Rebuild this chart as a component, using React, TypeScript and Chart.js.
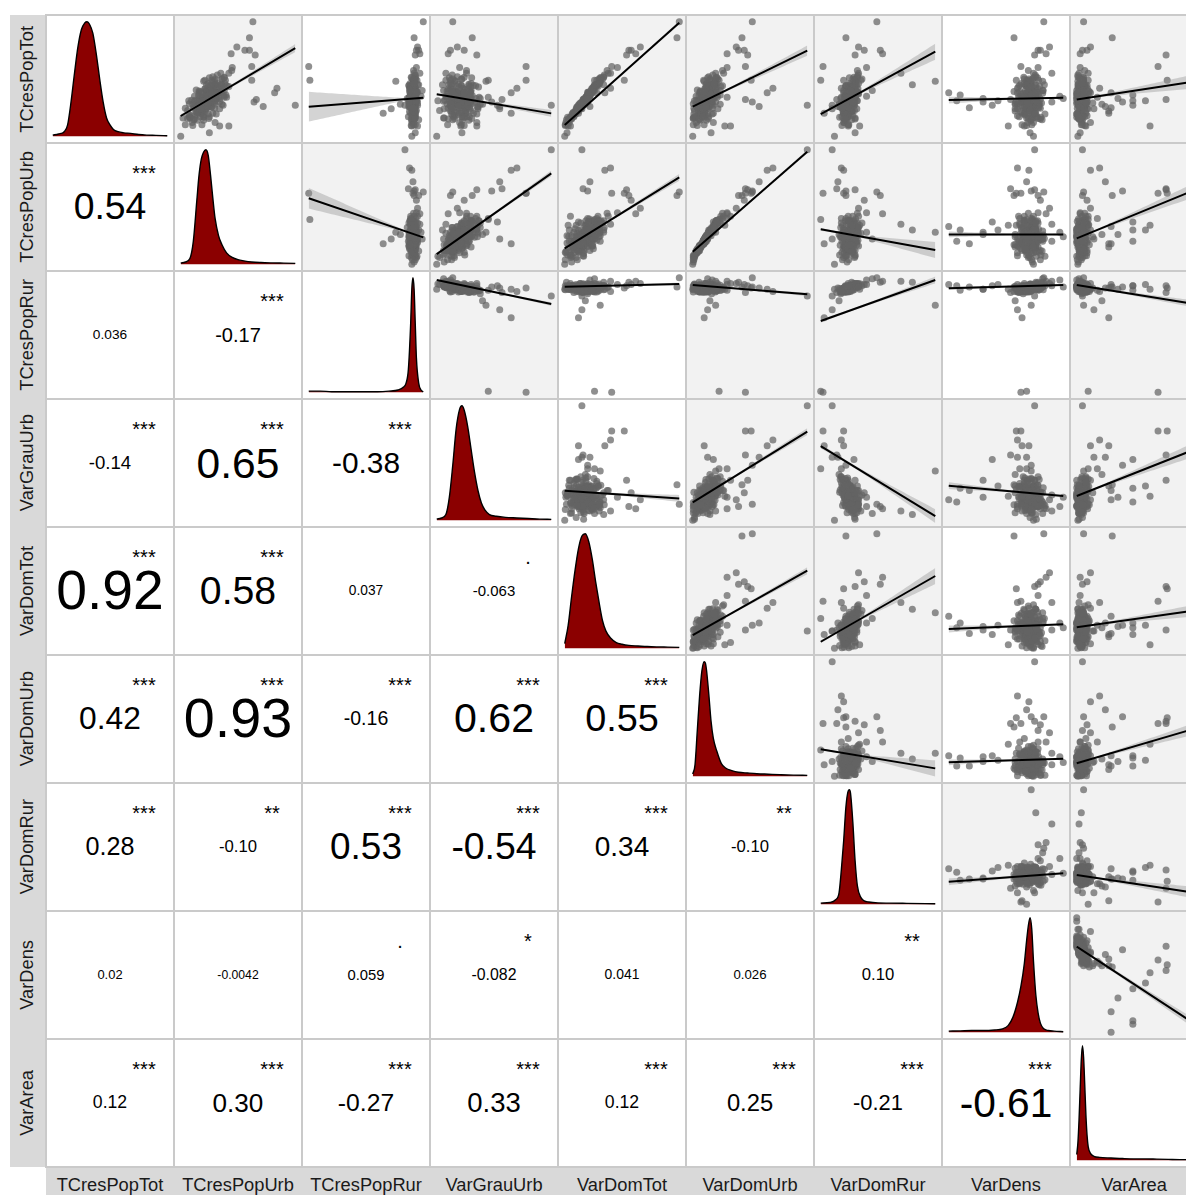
import React, { useEffect, useRef } from "react";
import { Chart, registerables } from "chart.js";

Chart.register(...registerables);

// ---------- labels ----------
const variables = [
  "TCresPopTot", "TCresPopUrb", "TCresPopRur", "VarGrauUrb", "VarDomTot",
  "VarDomUrb", "VarDomRur", "VarDens", "VarArea",
];

// ---------- observations (values read as position within each variable's range, 0..100) ----------
const TCresPopTot = [
  32,26,39,29,36,20,31,35,28,42, 30,31.5,25,38,27.5,33,17,35,28.5,41, 26,33.5,24.5,36,28,45.5,25.5,29.5,33.5,21,
  37.5,29,33.5,31.5,41,26.5,33,22,36.5,29.5, 38.5,27.5,44,26,31,22,35,30,28,39, 27.5,34.5,29.5,34,20,37.5,28.5,41.5,25,32.5,
  29,34,27.5,37,18.5,32.5,27,37.5,29.5,34,
  100,86,78,75,75,71,72,61,49,27, 48,38,33,49,32,9,27,31,42,38, 26,30,9,3,0,55,45,20,24,28,
  35,30,29,33,25,36,31,22,40,18, 50,55,12,60,34,15,30,
  50,14,46,40,20,52,35,24,44,16,38,28,48,
  23,34.5,45.5,27,33,17,37.5,25.5,32.5,48.5, 20,30.5,39,28,41.5,22,38.5,14,34,39, 28,30,21.5,44.5,31,35.5,24.5,44,16.5,34.5,
  29,39.5,25.5,32.5,50,25.5,38.5,19.5,32.5,37.5, 12,33.5,31.5,43.5,21.5,35,26.5,42.5,25.5,46, 18.5,32,35.5,24.5,37.5,30.5,34.5,15.5,44.5,26.5,
  44.5,17,51,28.5,36,16.5,51.5,22.5,40,34, 10,49,24,43,19.5,37,53.5,9.5,31,43.5, 25.5,41.5,16,51,30,40.5,14.5,33,49,19.5,
  39,10,57.5,24.5,38.5,17,45,29.5,46,15.5,
];
const TCresPopUrb = [
  20,21,27,15,28,15,22,21,26,31, 21,27,15,18,20,31,17,22,17,32, 21,22.5,12,29,16.5,30.5,24,16.5,25,14.5,
  23,22,31,13,26,23,23.5,15.5,27.5,17, 31.5,20,30.5,12.5,25.5,21.5,21,23.5,30,22, 19,23.5,25,18.5,18,25,18.5,36,17,25.5,
  14,25,16,30.5,12.5,28,22,24.5,19,24,
  63,60,49,56,60,65,44,62,39,100, 28,33,24,62,66,34,37,30,84,82, 72,64,42,25,0,35,30,18,22,26,
  28,20,24,26,18,30,20,15,22,10, 36,42,30,45,40,12,28,
  30,20,24,38,28,28,12,34,40,8,16,36,20,
  21,16.5,35.5,19,34,7.5,23,26.5,25,29.5, 16,12,34.5,24,21.5,18,30,14.5,18.5,29, 10.5,29.5,13.5,34.5,19.5,37.5,11.5,28,20,21.5,
  21.5,16,27,19,36,16.5,25.5,24,16,32.5, 10,28,9.5,24.5,19,33.5,15.5,28,11,38.5, 20,22,15.5,29.5,29,19,30,6,26,21,
  36,25,25,7.5,39.5,8,38,6,25.5,38, 18.5,21,17,38,7,27,32,10.5,7,42, 24,21,2,38,34,13.5,11.5,32,27,31,
  17,4,44.5,4,36,20,22.5,23.5,32,24.5,
];
const TCresPopRur = [
  92,90,92,93,89,91,92,91,91,91, 89,91.5,93,90,92.5,89,91,90.5,92.5,91.5, 89.5,93,89.5,93,90,91,90.5,91.5,87.5,93,
  90,92.5,92,89.5,93,90.5,91,93,90.5,90, 92,91,90.5,93,89,91,93.5,92,91.5,90.5, 91,93,88,91.5,92,89,93,91,90.5,90.5,
  91.5,93,88.5,93,91,90,91,93,89,91,
  100,92,95,94,96,93,97,0,1,84, 76,94,92,91,87,90,93,94,88,90, 91,92,95,93,90,97,96,65,72,80,
  98,93,91,90,92,89,93,91,99,91, 93,92,90,94,89,92,90,
  91,90,92,91,89,93,92,90,90,93,94,89,92,
  91,91.5,90.5,95,89,91,89.5,90.5,93,91.5, 90.5,93,89,88,93,92.5,90.5,91,88,94, 92,92,88,92.5,94.5,91.5,92,87.5,92.5,88,
  95,91,89,90.5,92,87.5,94,90.5,90.5,93, 91.5,88,92,92,92.5,92,87.5,92.5,92,88.5, 93,90,89.5,91,92.5,92,92.5,89.5,92,90,
  87.5,93,93,87.5,93.5,90.5,89.5,94,89.5,89, 91.5,93,92.5,88.5,93,93,93,89.5,94.5,89, 89.5,93.5,92,90,90,88.5,96,86,94.5,90.5,
  88,93,91.5,90.5,95,87,95,87.5,92,92.5,
];
const VarGrauUrb = [
  16,23,18,13,29,20,16,15,25,23, 25,18,17,15.5,16,30,22,21.5,9,24, 25,16.5,18.5,19,18,19,28.5,12,28.5,16.5,
  17,21,23.5,17,14,21.5,23,12,27,16, 23,20.5,21.5,12,25,25,12,21.5,27,17.5, 20.5,14.5,29.5,15,21.5,24,12.5,27,21,20,
  14.5,15,22.5,22,15.5,29,19.5,18,19,20.5,
  14,31,18,24,12,35,10,78,45,100, 43,18,20,78,57,21,53,30,70,65, 55,48,35,22,0,8,5,65,55,40,
  12,22,24,20,26,28,16,30,6,14, 22,26,35,20,45,10,35,
  14,28,12,30,32,18,8,36,34,6,10,38,16,
  25,8.5,28,11.5,34.5,15,22,24.5,19.5,16, 25.5,6,29.5,30,12.5,13,29.5,22.5,21.5,15, 15,22,22,21.5,11,31,10,28,23,20.5,
  17,9,36,14,21.5,26.5,17,25,19,17.5, 20,28,7,17.5,15.5,29.5,19,19,13,30, 19,21.5,16,29,24,12.5,24,15.5,13,27,
  32,26.5,11,12,26,24.5,24,2.5,28.5,37, 21.5,12,6.5,36.5,13,14.5,13.5,24,1,29.5, 35.5,10,6.5,30.5,27.5,11.5,14,38,8,35,
  13.5,9.5,26,13,24,28.5,10.5,33,13.5,30.5,
];
const VarDomTot = [
  18,13,23,15,20,9,18,21,14,25, 16,19,11,22,14.5,18.5,6,20,16,24, 13,18.5,11,21,14.5,28.5,12,17,19.5,7.5,
  23,14.5,19.5,16.5,24.5,14.5,17.5,11,20,16.5, 22,14.5,27,12,18,9.5,19.5,16,14.5,23, 13.5,20,16.5,18.5,8,22,16,25.5,12,19,
  15,20,14,21.5,7.5,17.5,15,20.5,17,19,
  100,98,66,58,56,54,62,41,26,15, 31,28,18,52,16,3,12,20,40,35, 22,20,5,2,0,40,34,12,15,18,
  22,16,15,19,13,22,18,10,26,8, 33,38,4,46,20,6,16,
  30,4,30,24,8,34,22,10,28,5,24,14,31,
  10,21,27.5,13.5,18.5,5,22.5,13.5,18,30.5, 7,17,23,15.5,24.5,12,20.5,3,19.5,23.5, 12.5,17.5,10.5,27.5,16,21,12.5,26,6,21,
  13.5,24.5,11,19,31.5,13,21,9.5,16.5,23, 1,20.5,16.5,25.5,10,19,15.5,24.5,12,29.5, 8,17.5,20.5,12,21.5,16,19,5.5,27.5,13,
  28,6,31,16,21.5,2.5,34,10,23,18.5, 2,28,14,25.5,6.5,21.5,34.5,0.5,16.5,29, 10.5,23.5,6,31.5,17.5,25,1.5,20,30,9,
  24,0.5,37,11,20,8,26,14.5,30.5,3.5,
];
const VarDomUrb = [
  10,10,15,6,15,6,12,10,14,17, 10,15,6.5,8,10.5,17.5,8,10.5,8,18, 9.5,11.5,4.5,16.5,7,16.5,12,7.5,12,7,
  11.5,11,17.5,4.5,14,12,11.5,7.5,14,8, 18,9.5,16.5,5,13,11,11.5,12,17,10, 9.5,12.5,12.5,9,8.5,12.5,9,20.5,7.5,13.5,
  5,14,6.5,17,5,14.5,11,13,9,12.5,
  52,43,38,45,40,48,30,46,23,100, 20,18,12,51,46,28,18,14,70,65, 58,52,33,16,0,20,15,10,13,15,
  17,10,12,13,9,16,9,6,13,4, 22,27,18,30,30,6,17,
  15,12,12,24,18,14,3,22,26,2,6,24,10,
  10.5,7.5,19.5,10,18.5,2,10.5,14.5,13,16, 7,4.5,19.5,11,10.5,9.5,16,6.5,8,16.5, 3,16.5,5,19.5,11,21.5,4.5,13.5,10,10,
  11.5,6.5,14,9,20,6,14,13,6.5,19.5, 3,14,3,12,10,19,6,15.5,3.5,21, 11,10.5,5.5,17,15,10,16.5,0.5,14,9.5,
  19.5,14,13,0.5,24,1,21,1.5,12,21.5, 10,9.5,9,20.5,1,15.5,17.5,4,1.5,24.5, 11.5,11,0.5,20.5,20,4,5.5,16.5,15,17,
  7,0.5,26,1,21.5,9,11.5,11,18.5,13.5,
];
const VarDomRur = [
  26,23,29,26,23,21,29,26,25,26.5, 21,28,24,25,27,25,22,23.5,29,28, 21,27.5,22,29,23.5,29,21.5,26,20.5,25.5,
  26,24.5,27,22,30.5,25,24,27,23,25, 29,23,27.5,26,23,22.5,30.5,24,26,25, 24.5,29,20.5,26.5,23,24,27.5,27.5,22,27,
  24,30,20.5,27.5,24,22.5,25,28,24,25.5,
  49,22,33,38,52,30,54,2,0,10, 100,31,27,20,14,34,29,32,18,20, 15,22,24,30,12,70,80,3,10,16,
  40,26,24,23,22,21,28,24,45,28, 36,33,20,40,18,30,22,
  28,22,30,24,20,32,28,19,22,30,33,18,31,
  22.5,28.5,26.5,29.5,22.5,22.5,22,25.5,26,30.5, 20,28.5,26.5,18.5,28.5,27.5,24,21,22,31.5, 22.5,27.5,19.5,29.5,31.5,25.5,26.5,22,23,24,
  28,27,19,27,30,17,29.5,24,22.5,32.5, 20.5,21,27,26.5,27.5,26,21,29.5,24,25.5, 25.5,24,22,25,25,29.5,26.5,20,31.5,19.5,
  24,24,32,22,30.5,16.5,29,29.5,20,23.5, 24,29,31.5,21.5,21.5,33,32.5,18.5,30,28, 17,32.5,23,25,28,24,27,17.5,35,20,
  26,24.5,32,19,32,18.5,30.5,18,33,21.5,
];
const VarDens = [
  72,68,73,76,70,75,65,72,69,76, 71,67,78,69.5,73.5,63.5,72,75,67.5,71.5, 70.5,77,66.5,74,68.5,70,73,71,65,75.5,
  68,79,72.5,69,72,66,74.5,70,76.5,64, 71,73.5,68.5,75,67,72.5,70.5,77.5,68,74, 69.5,73,66,71.5,76,67.5,74,70,72,64.5,
  75.5,71,68.5,78.5,66.5,73,70.5,75,63,72,
  83,57,88,80,78,75,85,63,68,75, 72,0,100,59,54,52,38,43,60,70, 68,72,66,71,74,90,76,64,60,58,
  97,90,58,30,18,10,7,58,82,60, 66,74,69,78,62,80,30,
  70,72,68,74,66,76,64,70,72,68,60,78,82,
  73.5,66.5,72,77,68,70,75.5,64.5,80,69, 74.5,72.5,62,71,78,67,74,71.5,65.5,73, 79,69.5,63,75,71,76,68.5,67.5,76.5,61,
  81,70,72.5,64,73.5,70.5,77.5,66.5,75.5,65, 74,69,72,79.5,68,74.5,61.5,71.5,76,66, 73,70,73.5,67.5,82,63.5,75.5,69.5,67,78,
  62,77,74,60,73,80.5,65.5,71,82.5,66.5, 64,78.5,58,72,84,63,75.5,68,76.5,61, 79,69,73,77.5,59,67,81.5,65,71.5,75,
  57,72.5,69.5,80,76,61.5,83.5,68.5,63.5,78,
];
const VarArea = [
  3,7,3,3,7,1,6,2,6,1, 4,3,3,5,2,9,3,3,3.5,5, 4,1.5,9,1.5,5.5,4,4.5,1.5,6.5,4,
  4,1.5,2,7,3.5,5,4,2,3,6, 6,1.5,5,3.5,4.5,3.5,6,0,5.5,2.5, 7,2,6,5,1,7,0,4.5,4.5,6,
  3,3.5,6.5,0,6,4.5,2,5.5,6.5,3.5,
  6,31,12,9,5,78,3,71,10,5, 6,30,0,79,78,64,49,60,20,12, 25,40,8,3,1,2,4,28,15,22,
  0,1,14,36,30,49,49,28,2,9, 5,10,12,3,18,2,100,
  3,5,2,6,8,1,4,10,7,2,4,8,1,
  3.5,4.5,5.5,1.5,6,7,0.5,6.5,0,5.5, 4.5,2.5,10.5,2.5,2,2.5,7,4.5,7,3, 3,2,7.5,1.5,6,0.5,5,8,0,8,
  2,3,7,6.5,3,3.5,3.5,4,5,5.5, 4,1.5,5,1.5,4.5,5,5.5,7,2.5,5.5, 1,5,2,6.5,0,9,2.5,3.5,7,1.5,
  9,1,6,8.5,1.5,4.5,5.5,5,0,8, 5,6,6,4.5,0,10,1,7,2,4.5, 3.5,9.5,1.5,2,9,5,3,4.5,5.5,0,
  11,4,7,0.5,6,5,1,8,5,2,
];
const series = [TCresPopTot, TCresPopUrb, TCresPopRur, VarGrauUrb, VarDomTot, VarDomUrb, VarDomRur, VarDens, VarArea];

// ---------- density curves on the diagonal: [position, height relative to peak] ----------
const densTCresPopTot = [[0,0.01],[5,0.02],[10,0.04],[13,0.1],[16,0.3],[19,0.55],[22,0.78],[25,0.93],[28,0.99],[30,1],[32,0.98],[35,0.9],[38,0.72],[41,0.5],[44,0.3],[47,0.16],[50,0.1],[53,0.06],[57,0.04],[62,0.03],[68,0.025],[75,0.015],[82,0.01],[90,0.008],[100,0.005]];
const densTCresPopUrb = [[0,0.01],[4,0.02],[8,0.05],[11,0.2],[14,0.55],[16,0.78],[18,0.92],[20,0.98],[22,1],[24,0.95],[26,0.78],[28,0.58],[30,0.4],[33,0.25],[36,0.17],[40,0.1],[45,0.06],[50,0.04],[55,0.03],[62,0.02],[70,0.015],[80,0.012],[90,0.01],[100,0.008]];
const densTCresPopRur = [[0,0.01],[10,0.01],[20,0.005],[30,0.005],[40,0.005],[50,0.005],[60,0.005],[70,0.01],[78,0.02],[82,0.04],[85,0.08],[87,0.2],[89,0.6],[90,0.9],[91,1],[92,0.9],[93,0.6],[94,0.3],[96,0.08],[98,0.02],[100,0.005]];
const densVarGrauUrb = [[0,0.01],[4,0.02],[8,0.05],[11,0.2],[14,0.48],[17,0.8],[20,0.97],[22,1],[24,0.96],[27,0.82],[30,0.62],[33,0.42],[36,0.26],[39,0.15],[42,0.09],[46,0.05],[52,0.035],[60,0.025],[70,0.02],[80,0.015],[90,0.01],[100,0.008]];
const densVarDomTot = [[0,0.04],[3,0.2],[6,0.45],[9,0.68],[12,0.87],[15,0.98],[18,1],[21,0.93],[24,0.78],[27,0.58],[30,0.4],[33,0.24],[36,0.15],[40,0.09],[45,0.05],[50,0.035],[56,0.025],[64,0.02],[72,0.015],[80,0.012],[90,0.01],[100,0.008]];
const densVarDomUrb = [[0,0.02],[2,0.1],[4,0.4],[6,0.7],[8,0.92],[10,1],[11,0.99],[12,0.93],[14,0.72],[16,0.48],[18,0.33],[21,0.22],[25,0.11],[29,0.07],[34,0.05],[40,0.035],[48,0.028],[56,0.022],[66,0.018],[76,0.014],[88,0.01],[100,0.008]];
const densVarDomRur = [[0,0.01],[8,0.015],[13,0.04],[16,0.1],[18,0.3],[20,0.55],[22,0.85],[24,0.99],[25,1],[26,0.97],[28,0.72],[30,0.38],[32,0.16],[35,0.06],[38,0.03],[42,0.02],[50,0.012],[60,0.01],[75,0.008],[100,0.005]];
const densVarDens = [[0,0.01],[10,0.012],[20,0.015],[30,0.015],[40,0.02],[47,0.03],[52,0.06],[56,0.13],[60,0.26],[63,0.4],[66,0.6],[68,0.8],[69.5,0.93],[71,1],[72.5,0.9],[74,0.62],[76,0.33],[78,0.17],[80,0.08],[83,0.03],[87,0.015],[92,0.01],[100,0.005]];
const densVarArea = [[0,0.05],[1,0.15],[2,0.35],[3,0.62],[4,0.88],[5,1],[6,0.9],[7,0.66],[8,0.4],[9,0.22],[10,0.12],[12,0.06],[15,0.035],[20,0.025],[30,0.02],[40,0.015],[50,0.012],[60,0.012],[70,0.01],[80,0.008],[90,0.006],[100,0.005]];
const densityCurves = [densTCresPopTot, densTCresPopUrb, densTCresPopRur, densVarGrauUrb, densVarDomTot, densVarDomUrb, densVarDomRur, densVarDens, densVarArea];

// ---------- pairs (row < column, row order) ----------
const corrValues = [
  "0.54","0.036","-0.14","0.92","0.42","0.28","0.02","0.12",
  "-0.17","0.65","0.58","0.93","-0.10","-0.0042","0.30",
  "-0.38","0.037","-0.16","0.53","0.059","-0.27",
  "-0.063","0.62","-0.54","-0.082","0.33",
  "0.55","0.34","0.041","0.12",
  "-0.10","0.026","0.25",
  "0.10","-0.21",
  "-0.61",
];
const corrStars = [
  "***","","***","***","***","***","","***",
  "***","***","***","***","**","","***",
  "***","","***","***",".","***",
  ".","***","***","*","***",
  "***","***","","***",
  "**","","***",
  "**","***",
  "***",
];
// fitted line: row-variable value at the smallest and largest column-variable value
const fitLines = [
  [17.7,77],[25.8,33.6],[36.6,20],[9.8,99.2],[25.8,74.7],[19.4,73.8],[31.6,33.6],[32.2,47.4],
  [57.6,23.5],[8.9,79.4],[13.9,75.9],[11,98.3],[30.5,12.4],[26.1,26.1],[22.6,63.7],
  [98,77],[92.2,94.5],[93.6,85.5],[62.2,98],[90.8,93.6],[93.6,77.5],
  [25.8,19.1],[15.7,77.4],[64.8,3.7],[30.2,21.2],[21.2,60.7],
  [11.5,67.7],[5.7,63.1],[16.8,20.9],[18.3,32.5],
  [23.5,6.9],[12.2,15.3],[11.3,40.7],
  [19.7,27],[25.5,10.5],
  [74.7,9.3],
];
// confidence band half-width at the two ends
const fitBands = [
  [1.5,3.5],[13,1],[1,3],[1,1.5],[1,4.5],[1.5,7],[3,1],[1,6],
  [9,0.8],[1,2.5],[1,3],[0.8,1.5],[1.2,7],[2.5,0.8],[0.8,6],
  [0.4,1.5],[0.4,1.2],[0.4,1.5],[1.5,3],[1.5,0.4],[0.4,3],
  [1,3],[1,3],[2,6],[3,1],[1,6],
  [0.8,3],[1.2,7],[3,0.8],[0.8,5],
  [1,7],[2.5,0.7],[0.8,5],
  [3,0.8],[0.8,5],
  [1.5,4],
];

// ---------- layout constants ----------
const CELL = 128;
const INNER = 126;
const GRID_LEFT = 45;
const GRID_TOP = 14;
const N = variables.length;
const FONT = "'Liberation Sans', Arial, Helvetica, sans-serif";

function pairIndex(i: number, j: number) {
  let k = 0;
  for (let a = 0; a < i; a++) k += N - 1 - a;
  return k + (j - i - 1);
}

function rangeOf(v: number[]) {
  const lo = Math.min(...v);
  const hi = Math.max(...v);
  const pad = (hi - lo) * 0.05;
  return { lo, hi, min: lo - pad, max: hi + pad };
}

const baseOptions = (xr: any, ymin: number, ymax: number) => ({
  animation: false,
  responsive: false,
  maintainAspectRatio: false,
  events: [],
  layout: { padding: 0, autoPadding: false },
  plugins: { legend: { display: false }, tooltip: { enabled: false }, title: { display: false } },
  scales: {
    x: { type: "linear", display: false, min: xr.min, max: xr.max },
    y: { type: "linear", display: false, min: ymin, max: ymax },
  },
});

function PlotPanel({ row, col }: { row: number; col: number }) {
  const ref = useRef<HTMLCanvasElement | null>(null);
  useEffect(() => {
    const canvas = ref.current;
    if (!canvas) return;
    const xr = rangeOf(series[col]);
    let config: any;
    if (row === col) {
      const dens = densityCurves[col];
      config = {
        type: "line",
        data: {
          datasets: [
            {
              data: dens.map(([x, y]) => ({ x, y })),
              borderColor: "#000000",
              borderWidth: 1.4,
              backgroundColor: "#8b0000",
              fill: "origin",
              pointRadius: 0,
              cubicInterpolationMode: "monotone",
            },
          ],
        },
        options: baseOptions(xr, -0.05, 1.05),
      };
    } else {
      const yr = rangeOf(series[row]);
      const k = pairIndex(row, col);
      const [y0, y1] = fitLines[k];
      const [bl, br] = fitBands[k];
      const xs = series[col];
      const ys = series[row];
      const xm = xs.reduce((a, b) => a + b, 0) / xs.length;
      const hm = Math.min(bl, br) * 0.6;
      const lineAt = (x: number) => y0 + ((y1 - y0) * (x - xr.lo)) / (xr.hi - xr.lo);
      const hwAt = (x: number) => {
        if (x < xm) {
          const t = (xm - x) / (xm - xr.lo);
          return Math.sqrt(hm * hm + (bl * bl - hm * hm) * t * t);
        }
        const t = (x - xm) / (xr.hi - xm);
        return Math.sqrt(hm * hm + (br * br - hm * hm) * t * t);
      };
      const upper: any[] = [];
      const lower: any[] = [];
      const steps = 40;
      for (let s = 0; s <= steps; s++) {
        const x = xr.lo + ((xr.hi - xr.lo) * s) / steps;
        upper.push({ x, y: lineAt(x) + hwAt(x) });
        lower.push({ x, y: lineAt(x) - hwAt(x) });
      }
      config = {
        type: "scatter",
        data: {
          datasets: [
            {
              type: "line",
              data: [
                { x: xr.lo, y: y0 },
                { x: xr.hi, y: y1 },
              ],
              borderColor: "#000000",
              borderWidth: 2,
              pointRadius: 0,
              fill: false,
              order: 0,
            },
            {
              type: "line",
              data: upper,
              borderColor: "rgba(0,0,0,0)",
              borderWidth: 0,
              pointRadius: 0,
              fill: false,
              order: 1,
            },
            {
              type: "line",
              data: lower,
              borderColor: "rgba(0,0,0,0)",
              borderWidth: 0,
              pointRadius: 0,
              fill: "-1",
              backgroundColor: "rgba(153,153,153,0.42)",
              order: 1,
            },
            {
              type: "scatter",
              data: xs.map((x, n) => ({ x, y: ys[n] })),
              pointRadius: 3.5,
              pointBackgroundColor: "rgba(100,100,100,0.72)",
              backgroundColor: "rgba(100,100,100,0.72)",
              borderWidth: 0,
              pointBorderWidth: 0,
              order: 3,
            },
          ],
        },
        options: baseOptions(xr, yr.min, yr.max),
      };
    }
    const chart = new Chart(canvas, config);
    return () => chart.destroy();
  }, [row, col]);
  return (
    <canvas
      ref={ref}
      width={INNER}
      height={INNER}
      style={{ display: "block", width: INNER, height: INNER }}
    />
  );
}

function CorrCell({ row, col }: { row: number; col: number }) {
  const k = pairIndex(col, row);
  const label = corrValues[k];
  const stars = corrStars[k];
  const size = 12 + 47 * Math.abs(parseFloat(label));
  return (
    <div style={{ position: "absolute", left: 0, top: 0, width: INNER, height: INNER }}>
      <div
        style={{
          position: "absolute",
          left: 0,
          top: 0,
          width: INNER,
          height: INNER,
          display: "flex",
          alignItems: "center",
          justifyContent: "center",
          fontSize: size,
          lineHeight: 1,
          color: "#000",
          fontFamily: FONT,
          whiteSpace: "nowrap",
        }}
      >
        {label}
      </div>
      {stars ? (
        <div
          style={{
            position: "absolute",
            left: 97 - 30,
            width: 60,
            top: 18.5,
            textAlign: "center",
            fontSize: 20,
            lineHeight: "20px",
            color: "#000",
            fontFamily: FONT,
          }}
        >
          {stars}
        </div>
      ) : null}
    </div>
  );
}

export default function App() {
  const cells: any[] = [];
  for (let i = 0; i < N; i++) {
    for (let j = 0; j < N; j++) {
      let bg = "#ffffff";
      if (i < j) {
        const s = corrStars[pairIndex(i, j)];
        bg = s === "" || s === "." ? "#ffffff" : "#f2f2f2";
      }
      cells.push(
        <div
          key={`${i}-${j}`}
          style={{
            position: "absolute",
            left: 2 + CELL * j,
            top: 2 + CELL * i,
            width: INNER,
            height: INNER,
            background: bg,
            overflow: "hidden",
          }}
        >
          {i > j ? <CorrCell row={i} col={j} /> : <PlotPanel row={i} col={j} />}
        </div>
      );
    }
  }
  return (
    <div
      style={{
        position: "absolute",
        left: 0,
        top: 0,
        width: 1186,
        height: 1195,
        overflow: "hidden",
        background: "#ffffff",
        fontFamily: FONT,
      }}
    >
      {/* left strip */}
      <div style={{ position: "absolute", left: 10, top: 15, width: 35, height: CELL * N, background: "#d9d9d9" }} />
      {variables.map((v, i) => (
        <div
          key={`ly-${v}`}
          style={{
            position: "absolute",
            left: 10,
            top: GRID_TOP + 1 + CELL * i,
            width: 35,
            height: CELL,
            display: "flex",
            alignItems: "center",
            justifyContent: "center",
          }}
        >
          <span
            style={{
              writingMode: "vertical-rl",
              transform: "rotate(180deg)",
              fontSize: 18.3,
              color: "#1a1a1a",
              whiteSpace: "nowrap",
              lineHeight: 1,
            }}
          >
            {v}
          </span>
        </div>
      ))}
      {/* bottom strip */}
      <div
        style={{
          position: "absolute",
          left: GRID_LEFT + 1,
          top: GRID_TOP + CELL * N + 2,
          width: CELL * N,
          height: 40,
          background: "#d9d9d9",
        }}
      />
      {variables.map((v, j) => (
        <div
          key={`lx-${v}`}
          style={{
            position: "absolute",
            left: GRID_LEFT + 1 + CELL * j,
            top: GRID_TOP + CELL * N + 2,
            width: CELL,
            height: 34,
            display: "flex",
            alignItems: "center",
            justifyContent: "center",
            fontSize: 18.3,
            color: "#1a1a1a",
            whiteSpace: "nowrap",
            lineHeight: 1,
          }}
        >
          {v}
        </div>
      ))}
      {/* panel grid */}
      <div
        style={{
          position: "absolute",
          left: GRID_LEFT,
          top: GRID_TOP,
          width: CELL * N + 2,
          height: CELL * N + 2,
          background: "#cacaca",
        }}
      >
        {cells}
      </div>
    </div>
  );
}
